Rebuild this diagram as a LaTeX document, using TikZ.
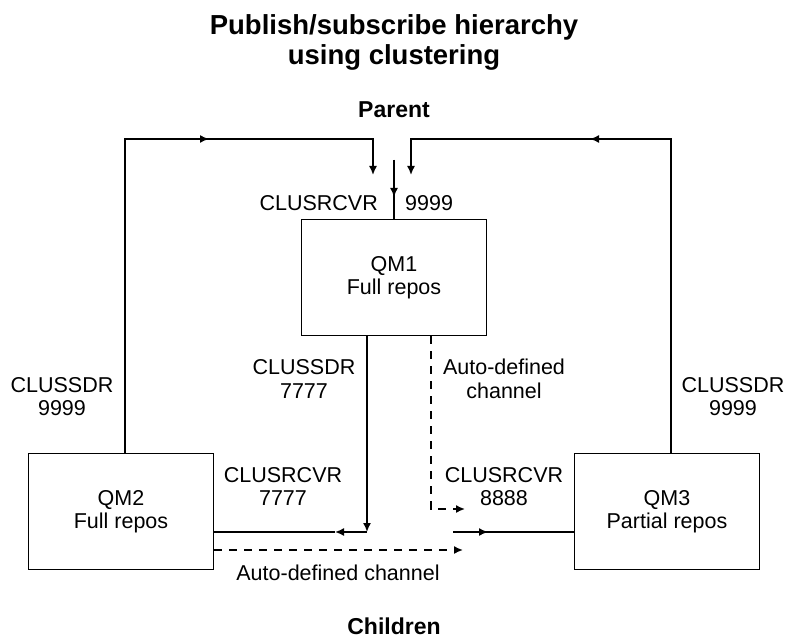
\documentclass[tikz,border=0pt]{standalone}
\usepackage{fontspec}
\setmainfont{Liberation Sans}
\usetikzlibrary{arrows.meta}
\usetikzlibrary{positioning}

\begin{document}
\begin{tikzpicture}[
		x=1pt, y=-1pt,
		every node/.style={inner sep=0pt, align=center, font=\fontsize{21.5}{23.5}\selectfont},
		qmbox/.style={draw, line width=1.6pt, minimum width=185pt, minimum height=116pt},
		heading/.style={font=\bfseries\fontsize{23}{28}\selectfont},
		chan/.style={line width=1.6pt},
		autochan/.style={line width=1.6pt, dash pattern=on 8pt off 7pt},
		tip/.style={-{Latex[length=9pt, width=8pt]}}
	]

	\useasboundingbox (0,0) rectangle (788,639);

	% --- Headings ---
	\node[heading, font=\bfseries\fontsize{27.5}{30}\selectfont, anchor=north] (title) at (394,14)
		{Publish/subscribe hierarchy\\using clustering};
	\node[heading] (parent) at (394,110) {Parent};
	\node[heading] (children) at (394,626) {Children};

	% --- Queue managers ---
	\node[qmbox] (qm1) at (394,277.5) {QM1\\Full repos};
	\node[qmbox] (qm2) at (121,511.5) {QM2\\Full repos};
	\node[qmbox] (qm3) at (667,511.5) {QM3\\Partial repos};

	% --- Corners and arrow points ---
	\coordinate (tl) at (125,139);
	\coordinate (tlmid) at (209,139);
	\coordinate (tlend) at (373,175);
	\coordinate (tr) at (671,139);
	\coordinate (trmid) at (590,139);
	\coordinate (trend) at (411,175);
	\coordinate (cin) at (394,160);
	\coordinate (cmid) at (394,197);
	\coordinate (dn) at (367,532);
	\coordinate (dnmid) at (335,532);
	\coordinate (dsh) at (431,509);
	\coordinate (dshend) at (465,509);
	\coordinate (rin) at (453,532);
	\coordinate (rinmid) at (488,532);
	\coordinate (bend) at (463,550);

	% --- Cluster senders up to the parent ---
	\draw[chan, tip] (qm2.north -| tl) -- (tl) -- (tl -| tlend) -- (tlend);
	\draw[chan, tip] (tl) -- (tlmid);
	\draw[chan, tip] (qm3.north -| tr) -- (tr) -- (tr -| trend) -- (trend);
	\draw[chan, tip] (tr) -- (trmid);
	\draw[chan] (cin) -- (qm1.north);
	\draw[chan, tip] (cin) -- (cmid);

	% --- Parent down to the children ---
	\draw[chan, tip] (qm1.south -| dn) -- (dn);
	\draw[chan, tip] (dn) -- (dnmid);
	\draw[chan] (dnmid) -- (qm2.east |- dn);
	\draw[autochan, tip] (qm1.south -| dsh) -- (dsh) -- (dshend);
	\draw[chan] (rin) -- (qm3.west |- rin);
	\draw[chan, tip] (rin) -- (rinmid);
	\draw[autochan, tip] (qm2.east |- bend) -- (bend);

	% --- Channel labels ---
	\node[anchor=east] (rcvr1) at (378,203) {CLUSRCVR};
	\node[anchor=west] (port1) at (405,203) {9999};
	\node (sdr2) at (62,396.5) {CLUSSDR\\9999};
	\node (sdr3) at (733,396.5) {CLUSSDR\\9999};
	\node (sdr1) at (304,379) {CLUSSDR\\7777};
	\node (auto1) at (504,379) {Auto-defined\\channel};
	\node (rcvr2) at (283,486.5) {CLUSRCVR\\7777};
	\node (rcvr3) at (504,486.5) {CLUSRCVR\\8888};
	\node (auto2) at (338,572.5) {Auto-defined channel};

\end{tikzpicture}
\end{document}
